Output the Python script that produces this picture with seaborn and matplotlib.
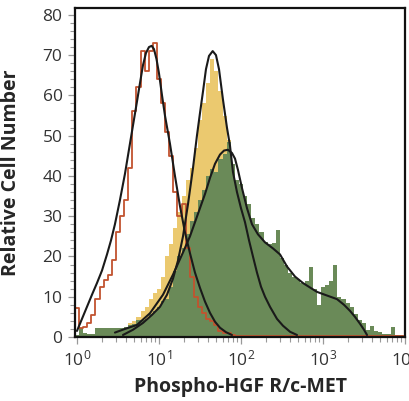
import numpy as np
import pandas as pd
import matplotlib
matplotlib.use("Agg")
import matplotlib.pyplot as plt
import seaborn as sns
from matplotlib.ticker import LogLocator, MultipleLocator

# bins are 0.05 decades wide, first edge at 10^-0.075
bin_start = -0.075
bin_width = 0.05

# isotype control (red outline)
red_counts = [23, 7.1, 2.3, 2.5, 3.5, 5.5, 9.5, 12.5, 14.2, 15.5,
              19, 26, 30, 34, 42, 56, 62, 71, 66, 71,
              73, 64, 58, 51, 45, 36, 30, 33, 22, 15,
              10, 7.5, 6, 4.5, 4, 3, 1.5, 1, 1, 0.4,
              0.3, 0.3, 0.3, 0.3, 0.3, 0.3, 0.3, 0.3, 0.3, 0.3,
              0.3, 0.3, 0.3, 0.3, 0.3, 0.3, 0.3, 0.3, 0.3, 0.3,
              0.3, 0.3, 0.3, 0.3, 0.3, 0.3, 0.3, 0.3, 0.3, 0.3,
              0.3, 0.3, 0.3, 0.3, 0.3, 0.3, 0.3, 0.3, 0.3, 0.3,
              0.3, 0.3]

# untreated sample (yellow)
yellow_counts = [0, 0, 0, 0, 0, 0, 0, 0, 0, 0,
                 0, 0, 1, 2.5, 3.5, 4, 5, 6.5, 7.5, 9.5,
                 11, 12, 15, 20, 23, 27, 31, 35, 39, 42,
                 47, 54, 58, 63, 69, 66, 61, 55, 49, 42,
                 35, 30, 26, 21, 17, 13, 10, 7, 5, 3.5,
                 2.5, 1.5, 1, 0.5, 0, 0, 0, 0, 0, 0,
                 0, 0, 0, 0, 0, 0, 0, 0, 0, 0,
                 0, 0, 0, 0, 0, 0, 0, 0, 0, 0,
                 0, 0]

# treated sample (green)
green_counts = [0.5, 0.5, 2.2, 1.0, 0.7, 0.7, 2.2, 2.2, 2.2, 2.3,
                2.2, 2.2, 2.3, 2.5, 3.0, 3.2, 4.3, 4.3, 4.5, 5.8,
                6.5, 7.5, 9.0, 9.5, 12.5, 16.5, 20, 22, 25.5, 28.7,
                31, 34, 36.6, 40, 41.6, 41, 44.3, 45.5, 48.5, 43,
                39, 38, 35, 33, 29.5, 28, 26, 23.5, 23, 23.4,
                26.6, 19.5, 18, 16, 15, 14.5, 13.4, 14, 17.4, 12,
                8, 12.5, 13, 14, 18, 10, 9.5, 8.5, 7.5, 5.7,
                4.2, 3.5, 1.7, 2.8, 1.5, 1.2, 0.8, 0.7, 2.6, 0.5,
                0.4, 0.3]

# fitted curves (log10 position, height)
red_fit_log = [0.000, 0.061, 0.122, 0.183, 0.244, 0.305, 0.366, 0.415, 0.463, 0.524,
               0.585, 0.646, 0.695, 0.732, 0.768, 0.805, 0.841, 0.878, 0.911, 0.939,
               0.970, 1.000, 1.037, 1.073, 1.134, 1.195, 1.256, 1.317, 1.378, 1.439,
               1.500, 1.561, 1.622, 1.683, 1.744, 1.817, 1.890]
red_fit_val = [1.5, 4.5, 7.5, 10.5, 13.4, 16.5, 20.5, 24, 28, 34,
               40.5, 48, 54, 58.5, 63, 67.5, 70.5, 72, 72.3, 71.5,
               69, 65.5, 60, 55, 48, 40, 32.5, 26, 20.8, 16,
               12.2, 8.8, 6.0, 3.8, 2.3, 1.2, 0.5]

yellow_fit_log = [0.561, 0.683, 0.805, 0.915, 1.012, 1.098, 1.171, 1.232, 1.293, 1.354,
                  1.415, 1.463, 1.500, 1.537, 1.573, 1.610, 1.655, 1.695, 1.732, 1.780,
                  1.829, 1.866, 1.902, 1.951, 2.000, 2.049, 2.098, 2.146, 2.195, 2.244,
                  2.293, 2.354, 2.439, 2.512, 2.598, 2.683]
yellow_fit_val = [0.5, 1.8, 3.5, 5.5, 7.5, 10.5, 14.5, 19, 25, 33,
                  42, 50, 55.6, 61, 66.5, 69.8, 71, 70, 66.5, 59,
                  52, 47.5, 41, 36, 32, 28.5, 24, 20, 16, 12.5,
                  10, 7.5, 4.5, 2.8, 1.3, 0.5]

green_fit_log = [0.463, 0.585, 0.732, 0.890, 1.049, 1.171, 1.293, 1.378, 1.439, 1.500,
                 1.561, 1.622, 1.683, 1.744, 1.793, 1.841, 1.890, 1.927, 1.963, 2.012,
                 2.073, 2.134, 2.207, 2.293, 2.390, 2.476, 2.561, 2.659, 2.756, 2.841,
                 2.927, 3.049, 3.171, 3.256, 3.329, 3.390, 3.451, 3.500, 3.537]
green_fit_val = [1.1, 2, 3, 5.9, 10.5, 15.5, 21, 25, 28.5, 32,
                 35.5, 39.5, 43, 45.3, 46.3, 46.5, 45.7, 44.3, 41.5, 37,
                 32, 28, 25.5, 23.5, 22, 20.5, 17.5, 15, 13.4, 12.3,
                 11.2, 10.3, 9.4, 8, 6.5, 5, 3.3, 1.8, 0.5]

n_bins = len(green_counts)
edges = bin_start + bin_width * np.arange(n_bins + 1)
centers = 10 ** (edges[:-1] + bin_width / 2)
bin_edges = [float(e) for e in edges]   # log10 units, seaborn bins in log space

hist = pd.DataFrame({"x": centers, "red": red_counts,
                     "yellow": yellow_counts, "green": green_counts})

sns.set_style("ticks")
plt.rcParams["font.family"] = ["Open Sans", "DejaVu Sans"]

fig = plt.figure(figsize=(4.09, 4.01), dpi=100)
ax = fig.add_axes([75 / 409, 1 - 337 / 401, 330 / 409, 329 / 401])

sns.histplot(data=hist, x="x", weights="yellow", bins=bin_edges, log_scale=True,
             element="step", fill=True, color="#ebc96f", alpha=1, linewidth=0, ax=ax)
sns.histplot(data=hist, x="x", weights="green", bins=bin_edges, log_scale=True,
             element="step", fill=True, color="#6a8a58", alpha=1, linewidth=0, ax=ax)
sns.histplot(data=hist, x="x", weights="red", bins=bin_edges, log_scale=True,
             element="step", fill=False, color="#c2532f", linewidth=1.3, ax=ax)

for lg, val in [(red_fit_log, red_fit_val), (yellow_fit_log, yellow_fit_val),
                (green_fit_log, green_fit_val)]:
    fit = pd.DataFrame({"x": 10 ** np.array(lg), "y": val})
    sns.lineplot(data=fit, x="x", y="y", sort=False, estimator=None,
                 color="#1a1a1a", linewidth=1.5, ax=ax)

ax.set_xscale("log")
ax.set_xlim(10 ** -0.024, 10 ** 4)
ax.set_ylim(0, 81.7)
ax.yaxis.set_major_locator(MultipleLocator(10))
ax.yaxis.set_minor_locator(MultipleLocator(2))
ax.xaxis.set_major_locator(LogLocator(base=10, numticks=10))
ax.xaxis.set_minor_locator(LogLocator(base=10, subs=np.arange(2, 10), numticks=20))

for side in ["left", "right", "top", "bottom"]:
    ax.spines[side].set_visible(True)
    ax.spines[side].set_color("#111111")
    ax.spines[side].set_linewidth(1.6)

ax.tick_params(axis="both", which="major", length=5, width=0.9, color="#999999",
               labelsize=12.5, labelcolor="#333333", pad=4)
ax.tick_params(axis="both", which="minor", length=3.5, width=0.8, color="#999999")

ax.set_xlabel("Phospho-HGF R/c-MET", fontsize=14, fontweight="bold")
ax.set_ylabel("Relative Cell Number", fontsize=14, fontweight="bold")
ax.xaxis.set_label_coords(0.5, -0.122)
ax.yaxis.set_label_coords(-0.165, 0.5)

fig.savefig("out.png", dpi=100)
